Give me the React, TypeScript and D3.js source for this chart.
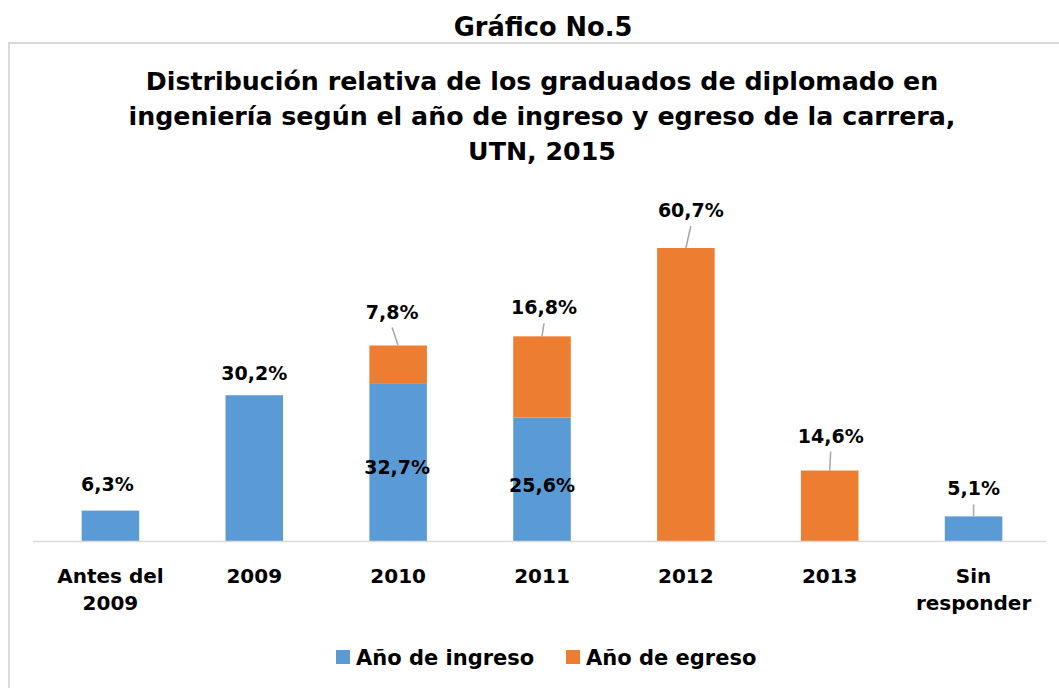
import React from "react";
import * as d3 from "d3";

// Datos
const categories = ["Antes del\n2009", "2009", "2010", "2011", "2012", "2013", "Sin\nresponder"];
const ingreso = [6.3, 30.2, 32.7, 25.6, 0, 0, 5.1];
const egreso = [0, 0, 7.8, 16.8, 60.7, 14.6, 0];
const seriesNames = ["Año de ingreso", "Año de egreso"];
const colors = ["#5B9BD5", "#ED7D31"];

const heading = "Gráfico No.5";
const titleLines = [
  "Distribución relativa de los graduados de diplomado en",
  "ingeniería según el año de ingreso y egreso de la carrera,",
  "UTN, 2015",
];

// etiquetas: "inside" = centrada en el segmento, "top" = encima, "leader" = con línea guía
// [modo, dx, dy] por categoría
const ingresoLabelPos: [string, number, number][] = [
  ["top", -3, -20],
  ["top", 0, -15],
  ["inside", -1, 12],
  ["inside", 0, 13],
  ["none", 0, 0],
  ["none", 0, 0],
  ["leader", 0, -21],
];
const egresoLabelPos: [string, number, number][] = [
  ["none", 0, 0],
  ["none", 0, 0],
  ["leader", -6, -27],
  ["leader", 2, -22],
  ["leader", 5, -31],
  ["leader", 1, -28],
  ["none", 0, 0],
];

const W = 1059;
const H = 688;
const FONT = "'DejaVu Sans', Lato, sans-serif";

const fmt = (v: number) => v.toFixed(1).replace(".", ",") + "%";

export default function App() {
  const x = d3.scaleBand().domain(categories).range([38.5, 1045.5]).paddingInner(0.6).paddingOuter(0.3);
  const baseY = 541;
  const y = d3.scaleLinear().domain([0, 60.7]).range([baseY, 248]);

  const stack = d3
    .stack<number>()
    .keys(["0", "1"])
    .value((i, k) => (k === "0" ? ingreso[i] : egreso[i]));
  const layers = stack(categories.map((_, i) => i));

  const labels: JSX.Element[] = [];
  layers.forEach((layer, s) => {
    const pos = s === 0 ? ingresoLabelPos : egresoLabelPos;
    const vals = s === 0 ? ingreso : egreso;
    layer.forEach((d, i) => {
      const [mode, dx, dy] = pos[i];
      if (mode === "none" || vals[i] === 0) return;
      const cx = x(categories[i])! + x.bandwidth() / 2;
      let ty: number;
      if (mode === "inside") ty = (y(d[0]) + y(d[1])) / 2 + dy;
      else ty = y(d[1]) + dy;
      const tx = cx + dx;
      labels.push(
        <g key={`l${s}-${i}`}>
          {mode === "leader" && (
            <line x1={tx} y1={ty + 9} x2={cx} y2={y(d[1])} stroke="#A6A6A6" strokeWidth={1.5} />
          )}
          <text x={tx} y={ty} textAnchor="middle" fontSize={19} fontWeight={700} fill="#000">
            {fmt(vals[i])}
          </text>
        </g>
      );
    });
  });

  return (
    <div>
      <style>{"body{margin:0}"}</style>
      <svg width={W} height={H} style={{ display: "block", fontFamily: FONT }}>
        <rect x={0} y={0} width={W} height={H} fill="#fff" />
        <text x={543} y={36} textAnchor="middle" fontSize={25.7} fontWeight={700} fill="#000">
          {heading}
        </text>
        <path d={`M9,${H} V43 H${W}`} fill="none" stroke="#D9D9D9" strokeWidth={2} />
        {titleLines.map((t, i) => (
          <text key={t} x={542} y={90 + i * 35} textAnchor="middle" fontSize={25.3} fontWeight={700} fill="#000">
            {t}
          </text>
        ))}

        {layers.map((layer, s) => (
          <g key={s} fill={colors[s]}>
            {layer.map((d, i) =>
              d[1] - d[0] > 0 ? (
                <rect
                  key={i}
                  x={x(categories[i])}
                  width={x.bandwidth()}
                  y={y(d[1])}
                  height={y(d[0]) - y(d[1])}
                />
              ) : null
            )}
          </g>
        ))}

        <line x1={33} x2={1046} y1={baseY + 0.5} y2={baseY + 0.5} stroke="#D9D9D9" strokeWidth={1.5} />

        {categories.map((c) => (
          <text
            key={c}
            x={x(c)! + x.bandwidth() / 2}
            y={583}
            textAnchor="middle"
            fontSize={20}
            fontWeight={700}
            fill="#000"
          >
            {c.split("\n").map((ln, j) => (
              <tspan key={j} x={x(c)! + x.bandwidth() / 2} dy={j === 0 ? 0 : 27}>
                {ln}
              </tspan>
            ))}
          </text>
        ))}

        {labels}

        {seriesNames.map((n, i) => {
          const lx = i === 0 ? 336 : 566;
          return (
            <g key={n}>
              <rect x={lx} y={650} width={14} height={14} fill={colors[i]} />
              <text x={lx + 20} y={665} fontSize={21} fontWeight={700} fill="#000">
                {n}
              </text>
            </g>
          );
        })}
      </svg>
    </div>
  );
}
